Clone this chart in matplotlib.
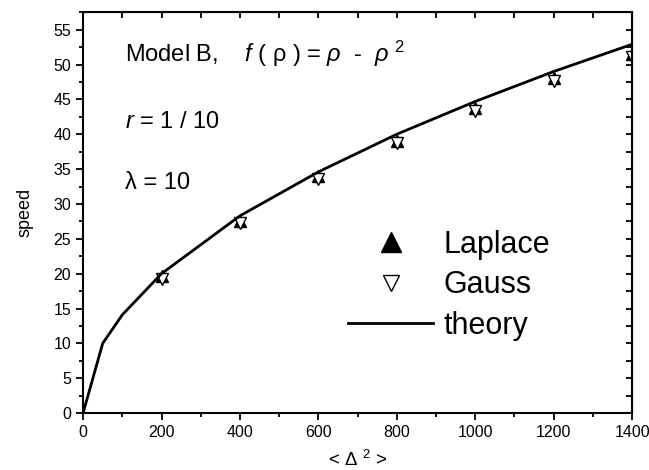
import numpy as np
import matplotlib
matplotlib.use("Agg")
import matplotlib.pyplot as plt
from matplotlib.ticker import MultipleLocator

plt.rcParams["font.family"] = ["Liberation Sans", "DejaVu Sans"]
plt.rcParams["mathtext.fontset"] = "custom"
plt.rcParams["mathtext.rm"] = "Liberation Sans"
plt.rcParams["mathtext.it"] = "Liberation Sans:italic"

# data
delta_theory = [0, 50, 100, 200, 400, 600, 800, 1000, 1200, 1400]
speed_theory = [0, 10.0, 14.1, 20.0, 28.3, 34.6, 40.0, 44.7, 49.0, 52.9]

delta_sim = [200, 400, 600, 800, 1000, 1200, 1400]
speed_laplace = [19.6, 27.6, 34.0, 39.1, 43.8, 48.0, 51.5]
speed_gauss = [19.2, 27.2, 33.6, 38.7, 43.4, 47.6, 51.1]

fig = plt.figure(figsize=(6.49, 4.70), dpi=100)
ax = fig.add_axes([0.128, 0.121, 0.846, 0.853])

ax.plot(delta_sim, speed_laplace, linestyle="none", marker="^", ms=8,
        color="black", label="Laplace")
ax.plot(delta_sim, speed_gauss, linestyle="none", marker="v", ms=8,
        markerfacecolor="white", markeredgecolor="black", mew=1.0,
        label="Gauss")
ax.plot(delta_theory, speed_theory, color="black", lw=2, label="theory")

ax.set_xlim(0, 1400)
ax.set_ylim(0, 57.5)
ax.xaxis.set_major_locator(MultipleLocator(200))
ax.xaxis.set_minor_locator(MultipleLocator(100))
ax.yaxis.set_major_locator(MultipleLocator(5))
ax.yaxis.set_minor_locator(MultipleLocator(2.5))
ax.tick_params(which="major", direction="out", length=5, width=1.3, labelsize=11.5)
ax.tick_params(which="minor", direction="out", length=3, width=1.3)
for s in ax.spines.values():
    s.set_linewidth(1.5)

# inward ticks on top and right
top = ax.secondary_xaxis("top")
top.xaxis.set_major_locator(MultipleLocator(200))
top.xaxis.set_minor_locator(MultipleLocator(100))
top.tick_params(which="both", direction="in", length=4, width=1.3, labeltop=False)
right = ax.secondary_yaxis("right")
right.yaxis.set_major_locator(MultipleLocator(5))
right.yaxis.set_minor_locator(MultipleLocator(2.5))
right.tick_params(which="both", direction="in", length=4, width=1.3, labelright=False)

ax.set_xlabel(r"< $\mathit{\Delta}$ $^{2}$ >", fontsize=13.5, labelpad=7)
ax.set_ylabel("speed", fontsize=13, labelpad=14)

ax.text(0.077, 0.895, r"Model B,    $\mathit{f}$ ( ρ ) = $\mathit{ρ}$  -  $\mathit{ρ}$ $^{2}$",
        transform=ax.transAxes, fontsize=17, va="center")
ax.text(0.077, 0.727, r"$\mathit{r}$ = 1 / 10", transform=ax.transAxes,
        fontsize=17, va="center")
ax.text(0.077, 0.573, "λ = 10", transform=ax.transAxes, fontsize=17,
        va="center")

leg = ax.legend(loc="center left", bbox_to_anchor=(0.433, 0.319), frameon=False,
                fontsize=22, handlelength=2.78, handletextpad=0.33,
                labelspacing=0.34)
leg.legend_handles[0].set_markersize(14)
leg.legend_handles[1].set_markersize(11)

fig.savefig("out.png", dpi=100)
